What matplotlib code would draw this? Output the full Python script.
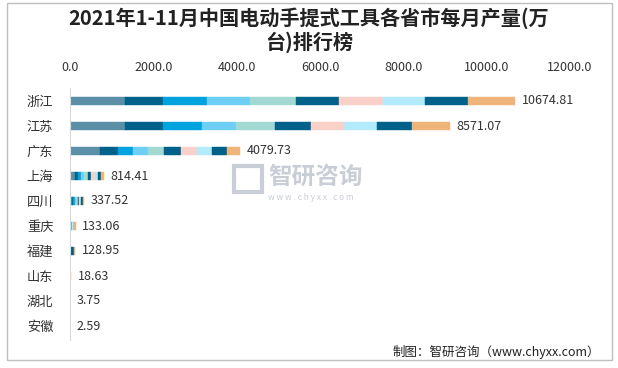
import matplotlib
matplotlib.use("Agg")
import matplotlib.pyplot as plt
from matplotlib.patches import Rectangle
import numpy as np

plt.rcParams['font.family'] = ['Noto Sans CJK SC', 'DejaVu Sans']

provinces = ['浙江', '江苏', '广东', '上海', '四川', '重庆', '福建', '山东', '湖北', '安徽']
months = ['1-2月', '3月', '4月', '5月', '6月', '7月', '8月', '9月', '10月', '11月']
totals = ['10674.81', '8571.07', '4079.73', '814.41', '337.52', '133.06', '128.95', '18.63', '3.75', '2.59']

# 每月产量（万台），按省份
zhejiang = [1319, 912, 1056, 1032, 1104, 1032, 1056, 1008, 1032, 1128]
jiangsu = [1320, 912, 936, 816, 936, 864, 792, 792, 840, 912]
guangdong = [720, 432, 360, 360, 384, 408, 384, 360, 360, 312]
shanghai = [113, 73, 73, 73, 97, 73, 89, 73, 81, 73]
sichuan = [50, 30, 35, 30, 35, 30, 30, 30, 35, 32]
chongqing = [0, 0, 45, 0, 0, 0, 0, 45, 0, 43]
fujian = [0, 30, 0, 0, 0, 0, 0, 0, 55, 44]
shandong = [0, 0, 0, 0, 0, 0, 0, 0, 0, 18.63]
hubei = [0, 0, 0, 0, 0, 0, 0, 0, 0, 3.75]
anhui = [0, 0, 0, 0, 0, 0, 0, 0, 0, 2.59]

colors = ['#5b8fa8', '#00618a', '#00a3dd', '#6dcff6', '#a2d9d3',
          '#00618a', '#f9d1c8', '#b3eafc', '#00618a', '#eeb47a']

data = np.array([zhejiang, jiangsu, guangdong, shanghai, sichuan,
                 chongqing, fujian, shandong, hubei, anhui], dtype=float)

fig = plt.figure(figsize=(6.18, 3.68), dpi=100)
ax = fig.add_axes([70 / 618, 1 - 340 / 368, 500 / 618, 252 / 368])

y = np.arange(len(provinces))
left = np.zeros(len(provinces))
for m in range(len(months)):
    ax.barh(y, data[:, m], left=left, height=0.34, color=colors[m], label=months[m],
            edgecolor=colors[m], linewidth=0.3)
    left += data[:, m]

for i in range(len(provinces)):
    ax.text(left[i] + 160, y[i], totals[i], va='center', ha='left', fontsize=9, color='#333333')

ax.set_xlim(0, 12000)
ax.set_ylim(9.56, -0.52)
ax.set_xticks(np.arange(0, 12001, 2000))
ax.set_xticklabels([f"{v:.1f}" for v in np.arange(0, 12001, 2000)])
ax.xaxis.tick_top()
ax.set_yticks(y)
ax.set_yticklabels(provinces)
ax.tick_params(axis='x', length=0, pad=10, labelsize=9, labelcolor='#333333')
ax.tick_params(axis='y', length=0, pad=12, labelsize=9.5, labelcolor='#333333')
for s in ['top', 'right', 'bottom']:
    ax.spines[s].set_visible(False)
ax.spines['left'].set_color('#d9d9d9')

fig.text(0.5, 1 - 30 / 368, '2021年1-11月中国电动手提式工具各省市每月产量(万\n台)排行榜',
         ha='center', va='center', fontsize=14.5, fontweight='bold', color='#222222', linespacing=1.15)

# 水印
fig.text(268 / 618, 1 - 177 / 368, '智研咨询', ha='left', va='center', fontsize=17,
         color='#c9cdd6', fontweight='bold')
fig.text(268 / 618, 1 - 198 / 368, 'w w w . c h y x x . c o m', ha='left', va='center',
         fontsize=6, color='#c9cdd6')
fig.patches.append(Rectangle((234 / 618, 1 - 192 / 368), 28 / 618, 26 / 368,
                             transform=fig.transFigure, fill=False, edgecolor='#c9cdd6', lw=3))

fig.text(600 / 618, 1 - 352 / 368, '制图：智研咨询（www.chyxx.com）', ha='right', va='center',
         fontsize=9, color='#222222')

fig.patches.append(Rectangle((7 / 618, 1 - 360 / 368), 605 / 618, 357 / 368,
                             transform=fig.transFigure, fill=False, edgecolor='#bfbfbf', lw=1))

fig.savefig('out.png', dpi=100)
